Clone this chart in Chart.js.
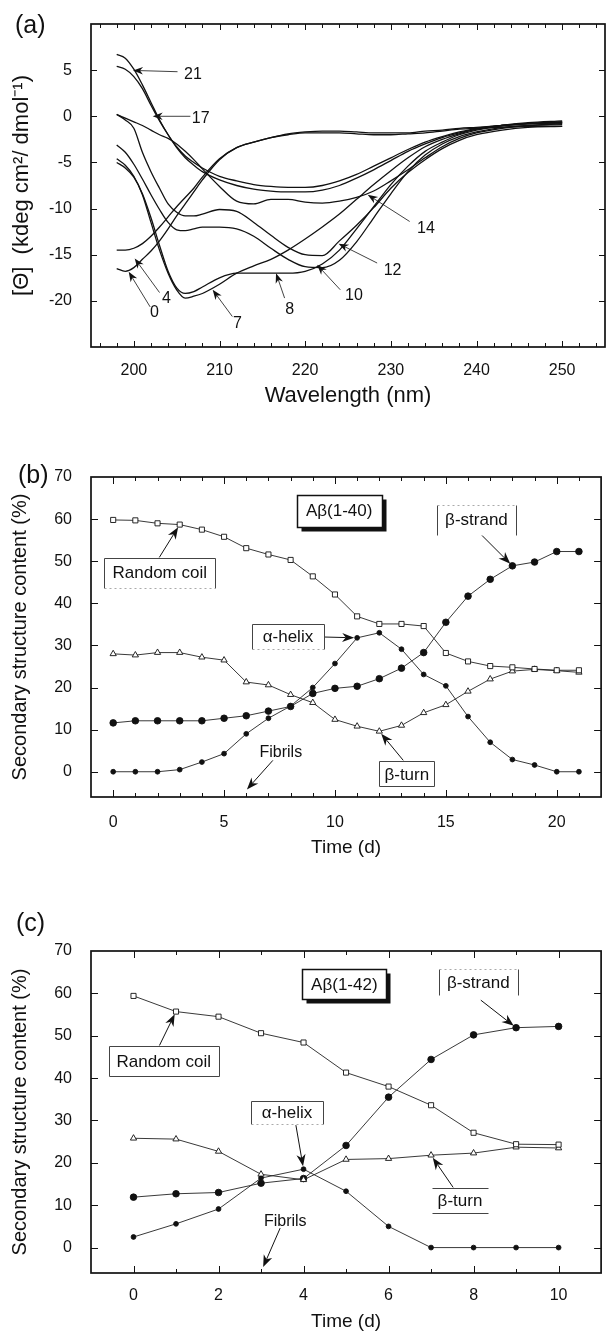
<!DOCTYPE html>
<html>
<head>
<meta charset="utf-8">
<title>Aβ CD spectra and secondary structure</title>
<script src="https://cdn.jsdelivr.net/npm/chart.js@4.4.1/dist/chart.umd.min.js"></script>
<style>
  html, body { margin: 0; padding: 0; background: #fff; }
  body { position: relative; width: 606px; height: 1334px; overflow: hidden;
         font-family: "Liberation Sans", Arial, Helvetica, sans-serif; color: #111; }
  canvas { position: absolute; left: 0; }
  .tag { position: absolute; font-size: 25px; line-height: 25px; }
</style>
</head>
<body>
<canvas id="cdChart" width="606" height="415" style="top:0"></canvas>
<canvas id="ab40Chart" width="606" height="410" style="top:455px"></canvas>
<canvas id="ab42Chart" width="606" height="404" style="top:930px"></canvas>
<div class="tag" style="left:15px;top:12px">(a)</div>
<div class="tag" style="left:18px;top:462px">(b)</div>
<div class="tag" style="left:16px;top:910px">(c)</div>
<script>
// ---- (a) CD spectra, one curve per day of incubation ----
const wavelength = [198, 199, 200, 201, 202, 203, 204, 205, 206, 207, 208, 210, 212, 214, 216,
                    218, 220, 222, 224, 226, 228, 230, 232, 234, 236, 238, 240, 243, 246, 250];
const cdDays = [0, 4, 7, 8, 10, 12, 14, 17, 21];
const cdDay0 = [-16.5, -16.8, -16.4, -15.5, -14.6, -13.5, -12.2, -10.8, -9.5, -8.2, -6.9, -4.7, -3.4, -2.8, -2.3,
                -1.9, -1.7, -1.6, -1.6, -1.7, -1.8, -1.8, -1.8, -1.6, -1.5, -1.3, -1.2, -1.0, -0.8, -0.7];
const cdDay4 = [-14.5, -14.5, -14.3, -13.8, -13.0, -12.0, -10.9, -9.8, -8.8, -7.8, -6.6, -4.6, -3.4, -2.8, -2.3,
                -2.0, -1.8, -1.8, -1.8, -1.9, -2.0, -2.0, -1.9, -1.8, -1.6, -1.4, -1.3, -1.2, -1.1, -1.1];
const cdDay7 = [-4.6, -5.3, -6.5, -8.5, -11.5, -14.5, -17.0, -18.8, -19.7, -19.5, -19.2, -18.2, -17.0, -16.2, -15.5,
                -14.5, -13.3, -12.0, -10.6, -9.0, -7.4, -5.9, -4.5, -3.3, -2.5, -1.9, -1.4, -1.0, -0.8, -0.6];
const cdDay8 = [-5.0, -5.6, -6.6, -8.4, -11.0, -14.0, -16.8, -18.6, -19.2, -19.0, -18.5, -17.5, -17.0, -17.0, -17.0,
                -17.0, -16.8, -16.0, -14.5, -12.2, -9.8, -7.4, -5.4, -3.8, -2.8, -2.0, -1.5, -1.0, -0.8, -0.6];
const cdDay10 = [-3.1, -3.9, -5.2, -6.8, -8.5, -10.1, -11.5, -12.3, -12.4, -12.2, -12.0, -12.0, -12.2, -13.0, -14.3,
                 -15.5, -16.3, -16.4, -15.6, -13.6, -11.0, -8.4, -6.0, -4.2, -3.0, -2.2, -1.7, -1.2, -1.0, -0.8];
const cdDay12 = [0.2, -0.4, -1.3, -3.9, -6.0, -7.8, -9.5, -10.4, -10.8, -10.8, -10.6, -10.1, -10.3, -11.5, -12.9,
                 -14.2, -15.0, -15.1, -13.5, -11.8, -9.9, -7.8, -6.1, -4.7, -3.5, -2.6, -2.0, -1.5, -1.2, -1.1];
const cdDay14 = [0.2, -0.2, -0.6, -1.0, -1.5, -2.0, -2.4, -3.0, -3.8, -4.7, -5.7, -7.6, -9.2, -9.5, -9.0,
                 -9.0, -9.3, -9.4, -9.2, -8.8, -8.1, -7.0, -5.8, -4.5, -3.3, -2.4, -1.8, -1.3, -1.0, -0.9];
const cdDay17 = [5.4, 5.1, 4.3, 3.0, 1.2, -0.5, -2.0, -3.3, -4.3, -5.0, -5.6, -6.5, -7.0, -7.4, -7.6,
                 -7.7, -7.7, -7.5, -7.0, -6.3, -5.4, -4.5, -3.6, -2.8, -2.2, -1.7, -1.3, -1.0, -0.8, -0.7];
const cdDay21 = [6.7, 6.3, 5.1, 3.4, 1.5, -0.4, -2.0, -3.4, -4.5, -5.3, -6.0, -6.9, -7.5, -7.9, -8.1,
                 -8.2, -8.2, -8.0, -7.5, -6.7, -5.8, -4.8, -3.8, -3.0, -2.3, -1.8, -1.4, -1.0, -0.7, -0.5];
const cdCurves = [cdDay0, cdDay4, cdDay7, cdDay8, cdDay10, cdDay12, cdDay14, cdDay17, cdDay21];
const cdXTicks = [200, 210, 220, 230, 240, 250];
const cdYTicks = [5, 0, -5, -10, -15, -20];

// ---- (b) Aβ(1-40) secondary structure over 21 days ----
const ab40Days = [0, 1, 2, 3, 4, 5, 6, 7, 8, 9, 10, 11, 12, 13, 14, 15, 16, 17, 18, 19, 20, 21];
const ab40RandomCoil = [59.8, 59.7, 59.0, 58.7, 57.5, 55.8, 53.1, 51.6, 50.3, 46.4, 42.1,
                        36.9, 35.1, 35.1, 34.6, 28.2, 26.2, 25.1, 24.8, 24.4, 24.1, 24.1];
const ab40BetaTurn = [28.0, 27.7, 28.3, 28.3, 27.2, 26.5, 21.3, 20.6, 18.3, 16.4, 12.4,
                      10.8, 9.6, 11.0, 14.0, 15.9, 19.1, 22.0, 23.9, 24.3, 24.0, 23.6];
const ab40BetaStrand = [11.6, 12.1, 12.1, 12.1, 12.1, 12.7, 13.3, 14.4, 15.5, 18.6, 19.8,
                        20.3, 22.1, 24.6, 28.3, 35.5, 41.7, 45.7, 48.9, 49.8, 52.3, 52.3];
const ab40Helix = [0, 0, 0, 0.5, 2.3, 4.3, 9.0, 12.7, 15.6, 20.0, 25.7,
                   31.8, 33.0, 29.1, 23.1, 20.4, 13.1, 7.0, 2.9, 1.6, 0, 0];
const ab40TimeTicks = [0, 5, 10, 15, 20];

// ---- (c) Aβ(1-42) secondary structure over 10 days ----
const ab42Days = [0, 1, 2, 3, 4, 5, 6, 7, 8, 9, 10];
const ab42RandomCoil = [59.4, 55.7, 54.5, 50.6, 48.4, 41.3, 38.0, 33.6, 27.1, 24.4, 24.3];
const ab42BetaTurn = [25.8, 25.6, 22.7, 17.3, 16.0, 20.8, 21.0, 21.8, 22.3, 23.7, 23.5];
const ab42BetaStrand = [11.9, 12.7, 13.0, 15.2, 16.3, 24.1, 35.5, 44.4, 50.2, 51.9, 52.2];
const ab42Helix = [2.5, 5.6, 9.1, 16.4, 18.5, 13.3, 5.0, 0, 0, 0, 0];
const ab42TimeTicks = [0, 2, 4, 6, 8, 10];

const contentTicks = [70, 60, 50, 40, 30, 20, 10, 0];

const FONT = '"Liberation Sans", Arial, Helvetica, sans-serif';
Chart.defaults.font.family = FONT;
Chart.defaults.color = '#111';

const isMul = (v, m) => Math.abs(v / m - Math.round(v / m)) < 1e-6;

// box frame with inward ticks on all four sides
const frame = {
  id: 'frame',
  afterDatasetsDraw(chart, args, o) {
    const { ctx, chartArea: a, scales: { x, y } } = chart;
    const steps = (s, step) => {
      const out = [];
      for (let v = Math.ceil(s.min / step - 1e-9) * step; v < s.max - 1e-9; v += step) {
        if (v > s.min + 1e-9) out.push(+v.toFixed(6));
      }
      return out;
    };
    ctx.save();
    ctx.strokeStyle = '#111';
    ctx.lineWidth = 1;
    ctx.beginPath();
    for (const v of steps(x, o.xStep)) {
      const p = Math.round(x.getPixelForValue(v)) + 0.5;
      const len = isMul(v, o.xMajor) ? o.major : o.minor;
      ctx.moveTo(p, a.bottom); ctx.lineTo(p, a.bottom - len);
      ctx.moveTo(p, a.top); ctx.lineTo(p, a.top + len);
    }
    for (const v of steps(y, o.yStep)) {
      const p = Math.round(y.getPixelForValue(v)) + 0.5;
      const len = isMul(v, o.yMajor) ? o.major : o.minor;
      ctx.moveTo(a.left, p); ctx.lineTo(a.left + len, p);
      ctx.moveTo(a.right, p); ctx.lineTo(a.right - len, p);
    }
    ctx.stroke();
    ctx.lineWidth = 1.7;
    ctx.strokeRect(a.left, a.top, a.width, a.height);
    ctx.restore();
  }
};

function drawArrow(ctx, p0, p1, head, lw, gap) {
  const ang = Math.atan2(p1[1] - p0[1], p1[0] - p0[0]);
  const c = Math.cos(ang), s = Math.sin(ang);
  const tx = p1[0] - c * gap, ty = p1[1] - s * gap;
  const bx = tx - c * head, by = ty - s * head;
  const hw = head * 0.38;
  ctx.strokeStyle = '#111';
  ctx.lineWidth = lw;
  ctx.beginPath();
  ctx.moveTo(p0[0], p0[1]);
  ctx.lineTo(bx + c * head * 0.3, by + s * head * 0.3);
  ctx.stroke();
  ctx.fillStyle = '#111';
  ctx.beginPath();
  ctx.moveTo(tx, ty);
  ctx.lineTo(bx - s * hw, by + c * hw);
  ctx.lineTo(tx - c * head * 0.7, ty - s * head * 0.7);
  ctx.lineTo(bx + s * hw, by - c * hw);
  ctx.closePath();
  ctx.fill();
}

function drawBox(ctx, kind, l, t, w, h) {
  if (!kind) return;
  const r = l + w, b = t + h;
  const seg = (x0, y0, x1, y1, color, width, dash) => {
    ctx.strokeStyle = color; ctx.lineWidth = width; ctx.setLineDash(dash || []);
    ctx.beginPath(); ctx.moveTo(x0, y0); ctx.lineTo(x1, y1); ctx.stroke();
  };
  ctx.fillStyle = '#fff';
  if (kind === 'shadow') {
    ctx.fillStyle = '#111'; ctx.fillRect(l + 4, t + 4, w, h);
    ctx.fillStyle = '#fff'; ctx.fillRect(l, t, w, h);
    ctx.strokeStyle = '#111'; ctx.lineWidth = 1.5; ctx.strokeRect(l, t, w, h);
    return;
  }
  ctx.fillRect(l, t, w, h);
  const dark = '#444', light = '#aaa';
  if (kind === 'full') {
    seg(l, t, r, t, dark, 1); seg(l, b, r, b, dark, 1); seg(l, t, l, b, dark, 1); seg(r, t, r, b, dark, 1);
  } else if (kind === 'open') {
    seg(l, t, r, t, dark, 1); seg(l, t, l, b, dark, 1); seg(r, t, r, b, dark, 1); seg(l, b, r, b, light, 1, [2, 3]);
  } else if (kind === 'sides') {
    seg(l, t, l, b, dark, 1); seg(r, t, r, b, dark, 1); seg(l, t, r, t, light, 1, [2, 3]);
  } else if (kind === 'rules') {
    seg(l, t, r, t, dark, 1); seg(l, b, r, b, dark, 1);
  }
  ctx.setLineDash([]);
}

// labels, boxes and arrows placed in data coordinates
const callouts = {
  id: 'callouts',
  afterDraw(chart, args, o) {
    const { ctx, scales: { x, y } } = chart;
    const at = p => [x.getPixelForValue(p[0]), y.getPixelForValue(p[1])];
    ctx.save();
    for (const c of o.items) {
      if (c.from) drawArrow(ctx, at(c.from), at(c.to), c.head || 12, c.lw || 1, c.gap || 0);
      if (!c.text) continue;
      const [cx, cy] = at(c.at);
      if (c.box) {
        const l = Math.round(cx - c.w / 2) + 0.5, t = Math.round(cy - c.h / 2) + 0.5;
        drawBox(ctx, c.box, l, t, c.w, c.h);
      }
      ctx.font = `${c.size || 17}px ${FONT}`;
      ctx.fillStyle = '#111';
      ctx.textAlign = 'center';
      ctx.textBaseline = 'middle';
      ctx.fillText(c.text, cx, cy + 1);
    }
    ctx.restore();
  }
};

function xAxis(min, max, labels, title, height, tickPad, titlePad, titleSize) {
  return {
    type: 'linear', min, max,
    grid: { display: false }, border: { display: false },
    afterFit: s => { s.height = height; },
    afterBuildTicks: s => { s.ticks = labels.map(v => ({ value: v })); },
    ticks: { padding: tickPad, font: { size: 16 }, color: '#111', maxRotation: 0, autoSkip: false },
    title: { display: true, text: title, color: '#111', font: { size: titleSize },
             padding: { top: 0, bottom: titlePad } }
  };
}

function yAxis(min, max, labels, title, titleSize, titlePad) {
  return {
    type: 'linear', min, max,
    grid: { display: false }, border: { display: false },
    afterFit: s => { s.width = 91; },
    afterBuildTicks: s => { s.ticks = labels.map(v => ({ value: v })); },
    ticks: { padding: 11, font: { size: 16 }, color: '#111', autoSkip: false },
    title: { display: true, text: title, color: '#111', font: { size: titleSize },
             padding: { top: titlePad, bottom: 0 } }
  };
}

const baseOptions = (padTop) => ({
  responsive: false,
  animation: false,
  events: [],
  layout: { padding: { top: padTop, right: 1, left: 0, bottom: 0 } },
  elements: { line: { borderColor: '#1a1a1a', borderWidth: 1 } }
});

// ---------- (a) ----------
new Chart(document.getElementById('cdChart'), {
  type: 'line',
  data: {
    datasets: cdCurves.map((vals, i) => ({
      label: 'day ' + cdDays[i],
      data: wavelength.map((w, j) => ({ x: w, y: vals[j] })),
      borderColor: '#111', borderWidth: 1.3, pointRadius: 0,
      cubicInterpolationMode: 'monotone'
    }))
  },
  options: Object.assign(baseOptions(24), {
    scales: {
      x: xAxis(195, 255, cdXTicks, 'Wavelength (nm)', 68, 6, 6, 22),
      y: yAxis(-25, 10, cdYTicks, '[Θ]  (kdeg cm²/ dmol⁻¹)', 22, 9)
    },
    plugins: {
      legend: { display: false }, tooltip: { enabled: false },
      frame: { xStep: 2, xMajor: 10, yStep: 5, yMajor: 5, major: 6, minor: 4 },
      callouts: { items: [
        { text: '21', at: [206.9, 4.64], from: [205.1, 4.83], to: [199.9, 4.97], head: 10, lw: 0.8, size: 16 },
        { text: '17', at: [207.8, -0.14], from: [206.6, 0], to: [202.2, 0], head: 10, lw: 0.8, size: 16 },
        { text: '14', at: [234.1, -12.1], from: [232.2, -11.4], to: [227.3, -8.5], head: 10, lw: 0.8, size: 16 },
        { text: '12', at: [230.2, -16.6], from: [228.4, -15.9], to: [223.9, -13.8], head: 10, lw: 0.8, size: 16 },
        { text: '10', at: [225.7, -19.3], from: [224.1, -18.8], to: [221.4, -16.1], head: 10, lw: 0.8, size: 16 },
        { text: '8', at: [218.2, -20.8], from: [217.6, -19.7], to: [216.6, -17.0], head: 10, lw: 0.8, size: 16 },
        { text: '7', at: [212.1, -22.4], from: [211.5, -21.7], to: [209.2, -18.8], head: 10, lw: 0.8, size: 16 },
        { text: '4', at: [203.8, -19.7], from: [203.0, -19.1], to: [200.1, -15.4], head: 10, lw: 0.8, size: 16 },
        { text: '0', at: [202.4, -21.2], from: [201.9, -20.65], to: [199.4, -16.85], head: 10, lw: 0.8, size: 16 }
      ] }
    }
  }),
  plugins: [frame, callouts]
});

// marker styles shared by (b) and (c)
const openSquare = { pointStyle: 'rect', pointRadius: 3.6, pointBackgroundColor: '#fff' };
const openTriangle = { pointStyle: 'triangle', pointRadius: 3.6, pointBackgroundColor: '#fff' };
const bigDot = { pointStyle: 'circle', pointRadius: 3.3, pointBackgroundColor: '#111' };
const smallDot = { pointStyle: 'circle', pointRadius: 2.4, pointBackgroundColor: '#111' };

function series(label, days, vals, marker) {
  return Object.assign({
    label,
    data: days.map((d, i) => ({ x: d, y: vals[i] })),
    borderColor: '#222', borderWidth: 0.9, tension: 0,
    pointBorderColor: '#111', pointBorderWidth: 0.9
  }, marker);
}

// ---------- (b) ----------
new Chart(document.getElementById('ab40Chart'), {
  type: 'line',
  data: {
    datasets: [
      series('Random coil', ab40Days, ab40RandomCoil, openSquare),
      series('β-turn', ab40Days, ab40BetaTurn, openTriangle),
      series('α-helix', ab40Days, ab40Helix, smallDot),
      series('β-strand', ab40Days, ab40BetaStrand, bigDot)
    ]
  },
  options: Object.assign(baseOptions(22), {
    scales: {
      x: xAxis(-1, 22, ab40TimeTicks, 'Time (d)', 68, 8, 6, 19),
      y: yAxis(-6, 70, contentTicks, 'Secondary structure content (%)', 20, 8)
    },
    plugins: {
      legend: { display: false }, tooltip: { enabled: false },
      frame: { xStep: 1, xMajor: 5, yStep: 10, yMajor: 10, major: 7, minor: 4 },
      callouts: { items: [
        { text: 'Aβ(1-40)', at: [10.19, 62.0], box: 'shadow', w: 85, h: 32 },
        { text: 'β-strand', at: [16.38, 59.9], box: 'sides', w: 79, h: 30, from: [16.14, 58.7], to: [18, 48.9], gap: 3 },
        { text: 'Random coil', at: [2.1, 47.3], box: 'open', w: 111, h: 30, from: [2.08, 50.9], to: [3, 58.7], gap: 3 },
        { text: 'α-helix', at: [7.88, 32.1], box: 'open', w: 72, h: 25, from: [9.49, 32.0], to: [11, 31.8], gap: 3 },
        { text: 'β-turn', at: [13.24, -0.5], box: 'full', w: 55, h: 25, from: [13.08, 2.7], to: [12, 9.6], gap: 3 },
        { text: 'Fibrils', at: [7.56, 4.8], size: 16, from: [7.2, 2.7], to: [6.03, -4.2] }
      ] }
    }
  }),
  plugins: [frame, callouts]
});

// ---------- (c) ----------
new Chart(document.getElementById('ab42Chart'), {
  type: 'line',
  data: {
    datasets: [
      series('Random coil', ab42Days, ab42RandomCoil, openSquare),
      series('β-turn', ab42Days, ab42BetaTurn, openTriangle),
      series('α-helix', ab42Days, ab42Helix, smallDot),
      series('β-strand', ab42Days, ab42BetaStrand, bigDot)
    ]
  },
  options: Object.assign(baseOptions(21), {
    scales: {
      x: xAxis(-1, 11, ab42TimeTicks, 'Time (d)', 61, 5, 1, 19),
      y: yAxis(-6, 70, contentTicks, 'Secondary structure content (%)', 20, 8)
    },
    plugins: {
      legend: { display: false }, tooltip: { enabled: false },
      frame: { xStep: 1, xMajor: 2, yStep: 10, yMajor: 10, major: 7, minor: 4 },
      callouts: { items: [
        { text: 'Aβ(1-42)', at: [4.96, 62.2], box: 'shadow', w: 84, h: 30 },
        { text: 'β-strand', at: [8.11, 62.7], box: 'sides', w: 79, h: 26, from: [8.17, 58.4], to: [9, 51.9], gap: 3 },
        { text: 'Random coil', at: [0.71, 44.0], box: 'full', w: 110, h: 30, from: [0.61, 47.7], to: [1, 55.7], gap: 3 },
        { text: 'α-helix', at: [3.61, 32.0], box: 'open', w: 72, h: 23, from: [3.82, 28.9], to: [4, 18.5], gap: 3 },
        { text: 'β-turn', at: [7.68, 11.1], box: 'rules', w: 56, h: 25, from: [7.52, 14.2], to: [7, 21.8], gap: 3 },
        { text: 'Fibrils', at: [3.57, 6.4], size: 16, from: [3.45, 4.6], to: [3.05, -4.6] }
      ] }
    }
  }),
  plugins: [frame, callouts]
});
</script>
</body>
</html>
